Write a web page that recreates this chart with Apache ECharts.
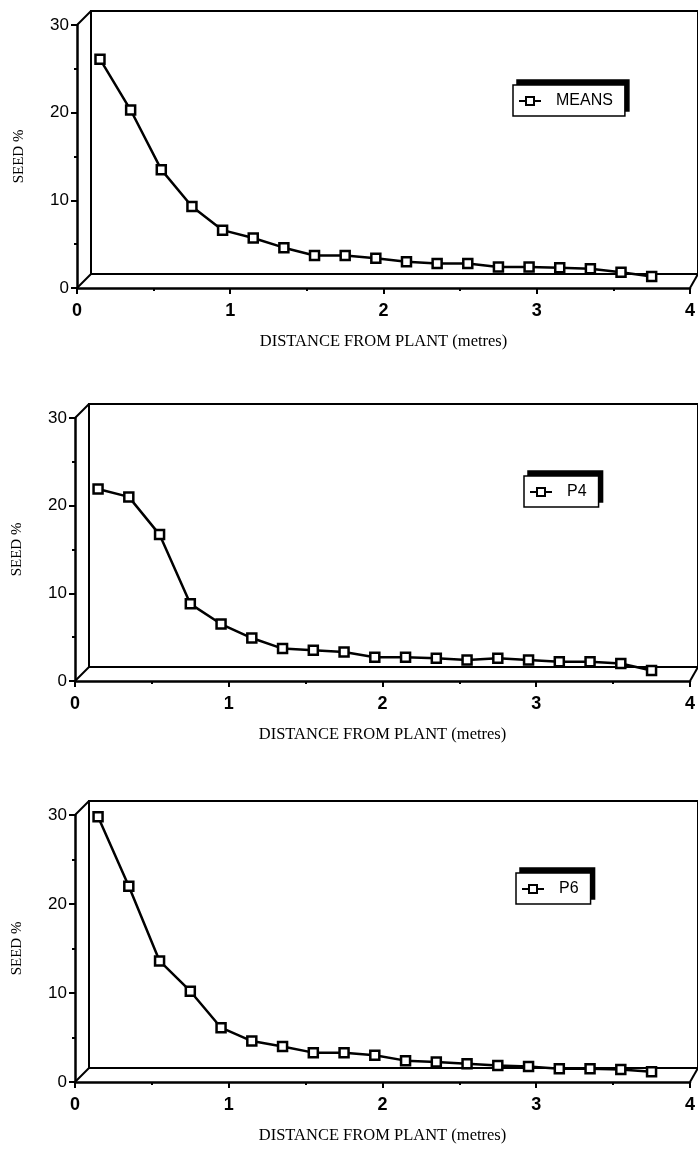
<!DOCTYPE html>
<html><head><meta charset="utf-8">
<script src="https://cdn.jsdelivr.net/npm/echarts@6/dist/echarts.min.js"></script>
<style>html,body{margin:0;padding:0;background:#fff}#c{width:698px;height:1149px}</style>
</head><body><div id="c"></div>
<script>
// ---- data ----
const distances = [0.15, 0.35, 0.55, 0.75, 0.95, 1.15, 1.35, 1.55, 1.75, 1.95, 2.15, 2.35, 2.55, 2.75, 2.95, 3.15, 3.35, 3.55, 3.75];
const seriesNames = ['MEANS', 'P4', 'P6'];
const meansValues = [26.1, 20.3, 13.5, 9.3, 6.6, 5.7, 4.6, 3.7, 3.7, 3.4, 3.0, 2.8, 2.8, 2.4, 2.4, 2.3, 2.2, 1.8, 1.3];
const p4Values = [21.9, 21.0, 16.7, 8.8, 6.5, 4.9, 3.7, 3.5, 3.3, 2.7, 2.7, 2.6, 2.4, 2.6, 2.4, 2.2, 2.2, 2.0, 1.2];
const p6Values = [29.8, 22.0, 13.6, 10.2, 6.1, 4.6, 4.0, 3.3, 3.3, 3.0, 2.4, 2.25, 2.05, 1.85, 1.75, 1.5, 1.5, 1.4, 1.15];
const xTickLabels = ['0', '1', '2', '3', '4'];
const yTickLabels = ['0', '10', '20', '30'];
const xAxisTitle = 'DISTANCE FROM PLANT (metres)';
const yAxisTitle = 'SEED %';

// ---- layout (positions only) ----
const layout = [
  {top: 25,  height: 263, left: 77, right: 5, legendLeft: 513, legendTop: 85},
  {top: 418, height: 263, left: 75, right: 3, legendLeft: 524, legendTop: 476},
  {top: 815, height: 267, left: 75, right: 4, legendLeft: 516, legendTop: 873}
];
const DEPTH = 14;
const SHADOW_DX = 4, SHADOW_DY = 5;
const valuesList = [meansValues, p4Values, p6Values];

const grids = [], xAxes = [], yAxes = [], series = [], legends = [];
const legendBase = {
  orient: 'horizontal', itemWidth: 22, itemHeight: 10, padding: [8, 12, 7, 5],
  selectedMode: false
};
layout.forEach((L, i) => {
  const f = 2 * i, b = 2 * i + 1;
  grids.push({left: L.left, right: L.right, top: L.top, height: L.height, containLabel: false});
  grids.push({left: L.left + DEPTH, right: L.right - DEPTH, top: L.top - DEPTH, height: L.height,
    show: true, borderColor: '#000', borderWidth: 2, backgroundColor: 'transparent', z: 1});
  xAxes.push({
    gridIndex: f, type: 'value', min: 0, max: 4, interval: 1,
    axisLine: {show: true, onZero: false, lineStyle: {color: '#000', width: 2.5}},
    axisTick: {show: true, length: 6, lineStyle: {color: '#000', width: 2}},
    minorTick: {show: true, splitNumber: 2, length: 3, lineStyle: {color: '#000', width: 2}},
    splitLine: {show: false},
    axisLabel: {color: '#000', fontFamily: 'Liberation Sans', fontWeight: 'bold', fontSize: 18, margin: 14,
      showMaxLabel: true, showMinLabel: true, formatter: v => xTickLabels[Math.round(v)]},
    name: xAxisTitle, nameLocation: 'middle', nameGap: 45,
    nameTextStyle: {color: '#000', fontFamily: 'Liberation Serif', fontSize: 16.5}
  });
  xAxes.push({gridIndex: b, type: 'value', min: 0, max: 4, show: false});
  yAxes.push({
    gridIndex: f, type: 'value', min: 0, max: 30, interval: 10,
    axisLine: {show: true, onZero: false, lineStyle: {color: '#000', width: 2.5}},
    axisTick: {show: true, length: 6, lineStyle: {color: '#000', width: 2}},
    minorTick: {show: true, splitNumber: 2, length: 3, lineStyle: {color: '#000', width: 2}},
    splitLine: {show: false},
    axisLabel: {color: '#000', fontFamily: 'Liberation Sans', fontSize: 17, margin: 8,
      formatter: v => yTickLabels[Math.round(v / 10)]},
    name: yAxisTitle, nameLocation: 'middle', nameGap: 50,
    nameTextStyle: {color: '#000', fontFamily: 'Liberation Serif', fontSize: 15}
  });
  yAxes.push({gridIndex: b, type: 'value', min: 0, max: 30, show: false});
  series.push({
    type: 'line', name: seriesNames[i], xAxisIndex: f, yAxisIndex: f,
    data: distances.map((d, j) => [d, valuesList[i][j]]),
    symbol: 'rect', symbolSize: 9, showAllSymbol: true,
    itemStyle: {color: '#fff', borderColor: '#000', borderWidth: 2.5},
    lineStyle: {color: '#000', width: 2.5},
    z: 5, animation: false
  });
  // solid black "shadow" box (same content, offset), drawn behind
  legends.push(Object.assign({}, legendBase, {
    data: [seriesNames[i]], left: L.legendLeft + SHADOW_DX, top: L.legendTop - SHADOW_DY, z: 3,
    backgroundColor: '#000', borderColor: '#000', borderWidth: 1.5,
    textStyle: {color: '#000', fontFamily: 'Liberation Sans', fontSize: 16, padding: [0, 0, 0, 10]}
  }));
  // visible legend box
  legends.push(Object.assign({}, legendBase, {
    data: [seriesNames[i]], left: L.legendLeft, top: L.legendTop, z: 4,
    backgroundColor: '#fff', borderColor: '#000', borderWidth: 1.5,
    textStyle: {color: '#000', fontFamily: 'Liberation Sans', fontSize: 16, padding: [0, 0, 0, 10]}
  }));
});

const chart = echarts.init(document.getElementById('c'), null, {renderer: 'canvas'});
chart.setOption({
  backgroundColor: '#fff', animation: false,
  grid: grids, xAxis: xAxes, yAxis: yAxes, series: series, legend: legends
});

// 3D box depth edges, computed through the axes' scales
const graphics = [];
layout.forEach((L, i) => {
  [[0, 30], [0, 0], [4, 0]].forEach(pt => {
    const p1 = chart.convertToPixel({gridIndex: 2 * i}, pt);
    const p2 = chart.convertToPixel({gridIndex: 2 * i + 1}, pt);
    graphics.push({type: 'line', shape: {x1: p1[0], y1: p1[1], x2: p2[0], y2: p2[1]},
      style: {stroke: '#000', lineWidth: 2}, z: 10});
  });
});
chart.setOption({graphic: graphics});
</script>
</body></html>
